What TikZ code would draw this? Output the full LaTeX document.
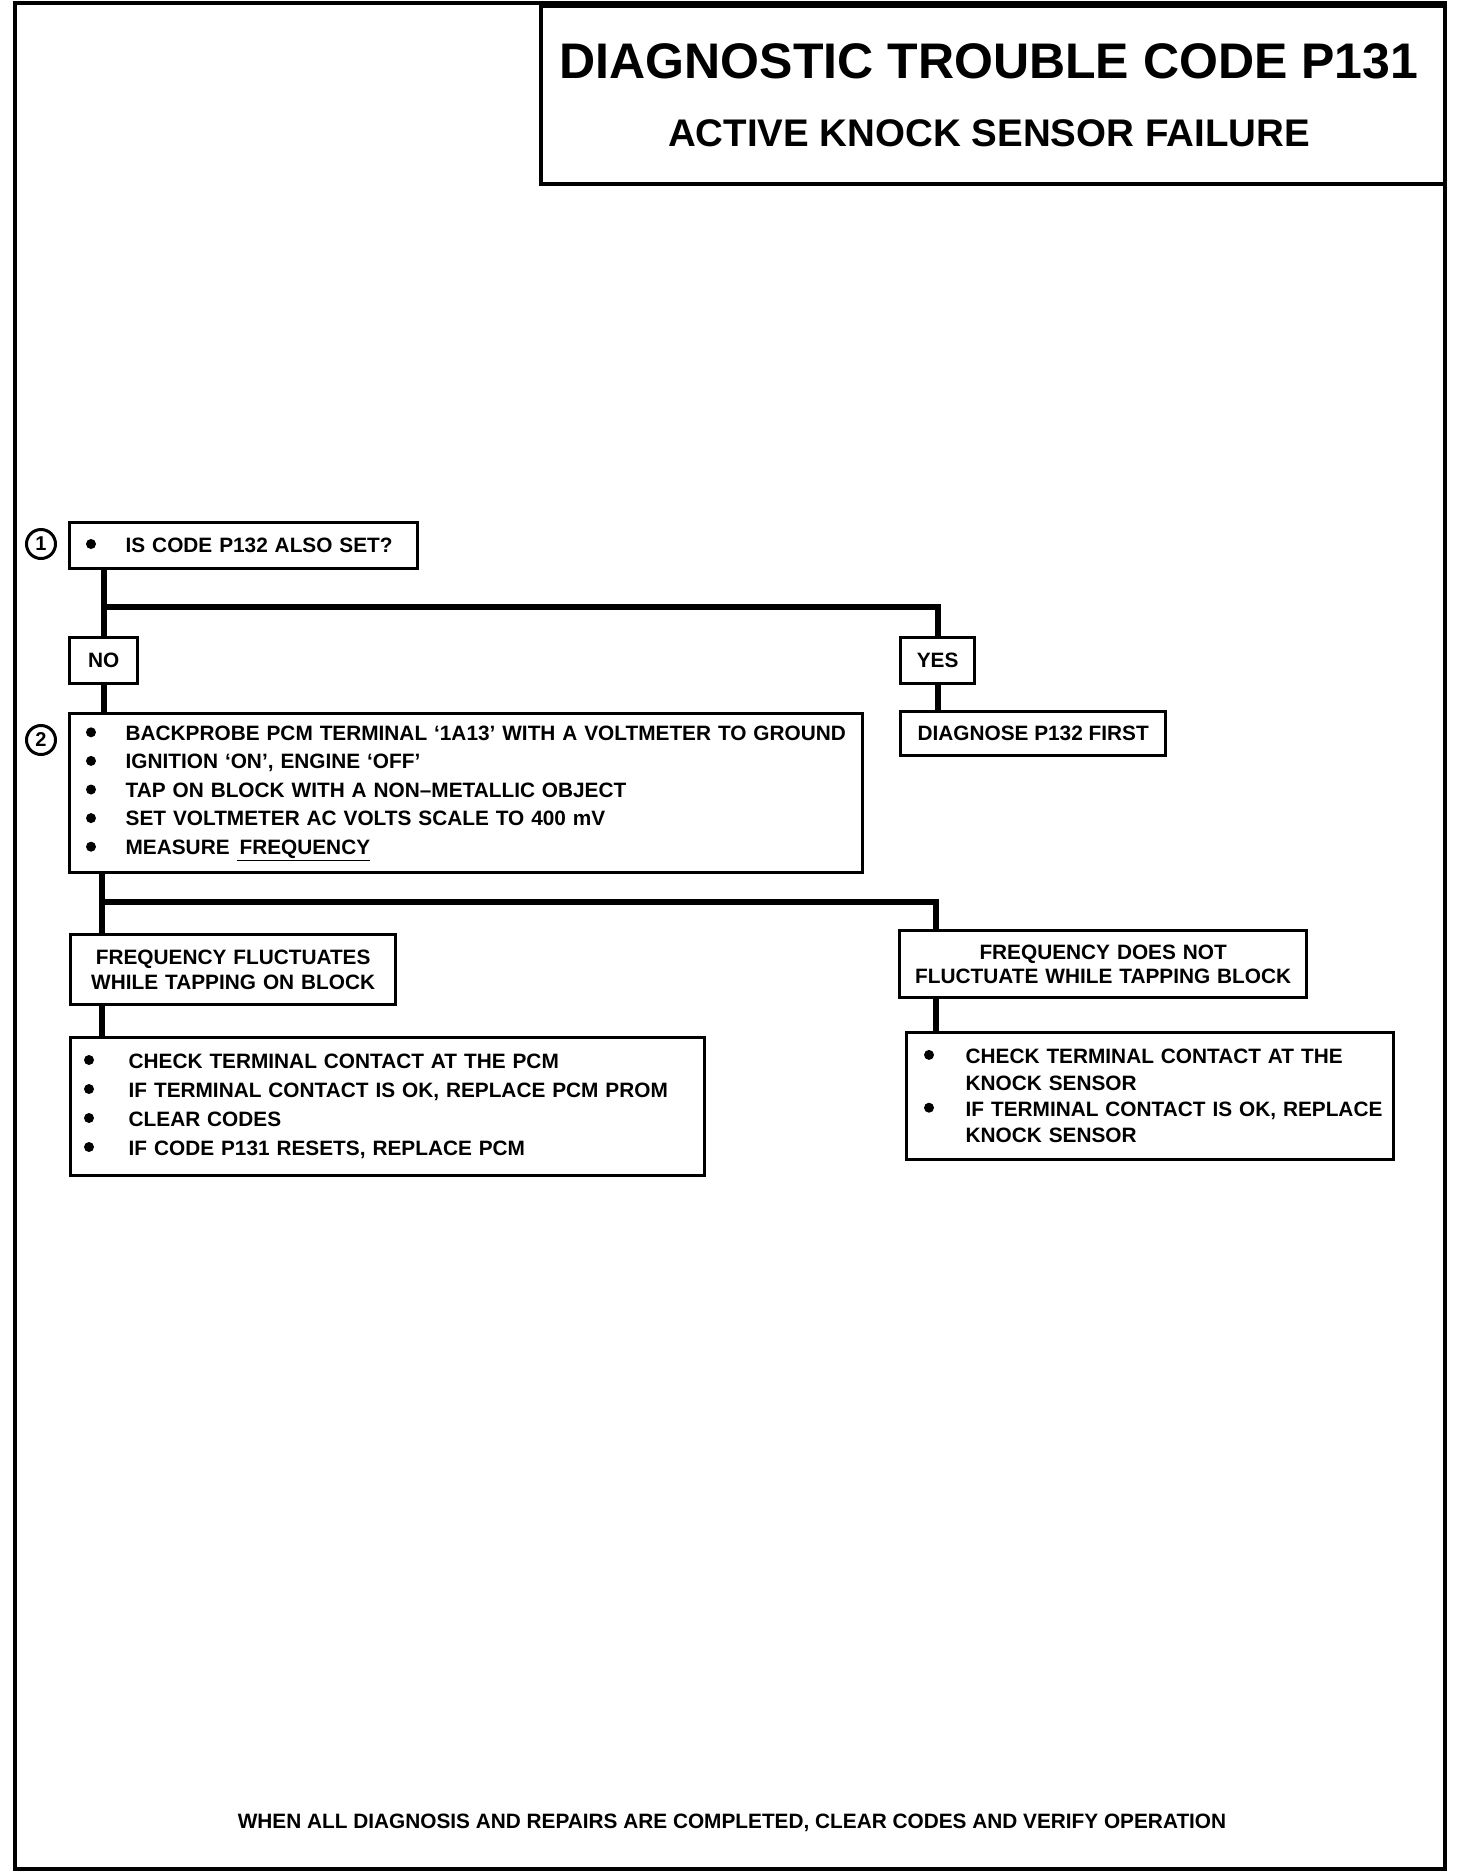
\documentclass[tikz,border=0pt]{standalone}
\usepackage{fontspec}
\setmainfont{Liberation Sans}
\newcommand{\bodyfont}{\fontsize{20.8}{28.6}\selectfont\bfseries}
\newcommand{\frqfont}{\fontsize{20.8}{24.5}\selectfont\bfseries}
\newcommand{\ind}[1]{\hspace*{#1}}
\begin{document}
\begin{tikzpicture}[x=1pt,y=-1pt,
  box/.style={draw, line width=3.3pt, anchor=north west, inner sep=0pt, align=left, font=\bodyfont},
  frq/.style={box, align=center, font=\frqfont},
  circ/.style={circle, draw, line width=3pt, minimum size=29pt, inner sep=0pt, font=\fontsize{20}{20}\selectfont\bfseries},
  conn/.style={line width=6pt, line join=miter},
  bul/.style={fill=black},
  frame/.style={line width=4pt}]
\fill[white] (0,0) rectangle (1472,1872);
\useasboundingbox (0,0) rectangle (1472,1872);
% outer frame
\draw[frame] (15,3) rectangle (1445,1869);
% title
\node[draw, line width=4pt, anchor=north west, minimum width=904pt, minimum height=178pt, inner sep=0pt] (tbox) at (539,4) {};
\node[font=\fontsize{50}{50}\selectfont\bfseries, inner sep=0pt, anchor=base] (t1) at (989,78) {DIAGNOSTIC TROUBLE CODE P131};
\node[font=\fontsize{38.5}{40}\selectfont\bfseries, inner sep=0pt, anchor=base] (t2) at (989,146) {ACTIVE KNOCK SENSOR FAILURE};
% step 1
\node[box, minimum width=348pt, minimum height=46pt, text width=348pt] (b1) at (68,521) {\ind{56pt}IS CODE P132 ALSO SET?};
\node[circ] (c1) at (41,544) {1};
\node[box, align=center, minimum width=68pt, minimum height=46pt] (no) at (68,636) {NO};
\node[box, align=center, minimum width=74pt, minimum height=46pt] (yes) at (899,636) {YES};
\node[box, align=center, minimum width=265pt, minimum height=44pt] (diag) at (899,710) {DIAGNOSE P132 FIRST};
% step 2
\node[box, minimum width=793pt, minimum height=159pt, text width=793pt] (b2) at (68,712) {%
\ind{56pt}BACKPROBE PCM TERMINAL ‘1A13’ WITH A VOLTMETER TO GROUND\\
\ind{56pt}IGNITION ‘ON’, ENGINE ‘OFF’\\
\ind{56pt}TAP ON BLOCK WITH A NON–METALLIC OBJECT\\
\ind{56pt}SET VOLTMETER AC VOLTS SCALE TO 400 mV\\
\ind{56pt}MEASURE \underline{\hspace{3pt}FREQUENCY}};
\node[circ] (c2) at (41,740) {2};
% results
\node[frq, minimum width=325pt, minimum height=70pt, text width=325pt] (lf) at (69,933) {FREQUENCY FLUCTUATES\\WHILE TAPPING ON BLOCK};
\node[box, font=\fontsize{20.8}{29}\selectfont\bfseries, minimum width=634pt, minimum height=138pt, text width=634pt] (lb) at (69,1036) {%
\ind{58pt}CHECK TERMINAL CONTACT AT THE PCM\\
\ind{58pt}IF TERMINAL CONTACT IS OK, REPLACE PCM PROM\\
\ind{58pt}CLEAR CODES\\
\ind{58pt}IF CODE P131 RESETS, REPLACE PCM};
\node[frq, minimum width=407pt, minimum height=67pt, text width=407pt] (rf) at (898,929) {FREQUENCY DOES NOT\\FLUCTUATE WHILE TAPPING BLOCK};
\node[box, font=\fontsize{20.8}{26.4}\selectfont\bfseries, minimum width=487pt, minimum height=127pt, text width=487pt] (rb) at (905,1031) {%
\ind{59pt}CHECK TERMINAL CONTACT AT THE\\
\ind{59pt}KNOCK SENSOR\\
\ind{59pt}IF TERMINAL CONTACT IS OK, REPLACE\\
\ind{59pt}KNOCK SENSOR};
% bullets
\foreach \y in {544} \fill[bul] (91,\y) circle (5pt);
\foreach \y in {732.3,760.9,789.5,818.1,846.7} \fill[bul] (91,\y) circle (5pt);
\foreach \y in {1060,1089,1118,1147} \fill[bul] (89,\y) circle (5pt);
\foreach \y in {1054.9,1107.7} \fill[bul] (929,\y) circle (5pt);
% footer
\node[font=\bodyfont, inner sep=0pt, anchor=base] (foot) at (732,1828) {WHEN ALL DIAGNOSIS AND REPAIRS ARE COMPLETED, CLEAR CODES AND VERIFY OPERATION};
% connectors
\coordinate (j1) at (102,607);
\coordinate (j2) at (102,902);
\draw[conn] (b1.south -| no.north) -- (no.north);
\draw[conn] (no.south) -- (no.south |- b2.north);
\draw[conn] (j1) -| (yes.north);
\draw[conn] (yes.south) -- (yes.south |- diag.north);
\draw[conn] ([xshift=34pt]b2.south west) -- ([xshift=33pt]lf.north west);
\draw[conn] (j2) -| ([xshift=38pt]rf.north west);
\draw[conn] ([xshift=33pt]lf.south west) -- ([xshift=33pt]lb.north west);
\draw[conn] ([xshift=38pt]rf.south west) -- ([xshift=31pt]rb.north west);
\end{tikzpicture}
\end{document}
